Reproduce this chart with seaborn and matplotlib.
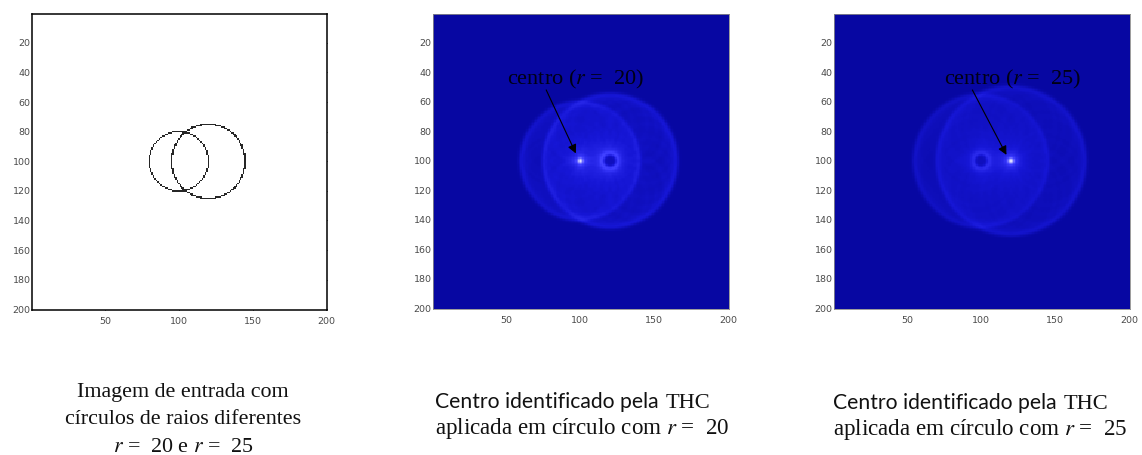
import numpy as np
import matplotlib.pyplot as plt
import seaborn as sns
from matplotlib.colors import LinearSegmentedColormap, PowerNorm

# input image: 200x200 with two circles
img_size = 200
circle_x = [100, 120]
circle_y = [100, 100]
circle_r = [20, 25]

# radius searched by the circular Hough transform (THC) in panels 2 and 3
search_r = [20, 25]
peak_labels = ['centro ($r$ =  20)', 'centro ($r$ =  25)']

x_ticks = [50, 100, 150, 200]
y_ticks = [20, 40, 60, 80, 100, 120, 140, 160, 180, 200]

caption_1 = ['Imagem de entrada com', 'círculos de raios diferentes', '$r$ =  20 e $r$ =  25']
caption_sans = 'Centro identificado pela'
caption_serif = 'THC'
caption_2 = ['aplicada em círculo com $r$ =  20', 'aplicada em círculo com $r$ =  25']

sns.set_theme(style='white')
plt.rcParams['font.family'] = ['Liberation Serif', 'DejaVu Serif']
plt.rcParams['mathtext.fontset'] = 'stix'

# rasterised circle edges (MATLAB style 1-based pixel coords)
cols, rows = np.meshgrid(np.arange(1, img_size + 1), np.arange(1, img_size + 1))
edges = np.zeros((img_size, img_size))
for cx, cy, r in zip(circle_x, circle_y, circle_r):
    d = np.hypot(cols - cx, rows - cy)
    edges[np.abs(d - r) < 0.5] = 1


# Hough accumulator for a fixed radius
def hough(edge_img, radius):
    ey, ex = np.nonzero(edge_img)
    theta = np.linspace(0, 2 * np.pi, 360, endpoint=False)
    a = np.rint(ex[:, None] - radius * np.cos(theta)[None, :]).astype(int).ravel()
    b = np.rint(ey[:, None] - radius * np.sin(theta)[None, :]).astype(int).ravel()
    ok = (a >= 0) & (a < img_size) & (b >= 0) & (b < img_size)
    acc = np.zeros((img_size, img_size))
    np.add.at(acc, (b[ok], a[ok]), 1)
    # slight softening, the original figure is a blurry screenshot
    k = np.exp(-0.5 * (np.arange(-4, 5) / 1.0) ** 2)
    k /= k.sum()
    acc = np.apply_along_axis(lambda v: np.convolve(v, k, mode='same'), 0, acc)
    acc = np.apply_along_axis(lambda v: np.convolve(v, k, mode='same'), 1, acc)
    return acc


blue_map = LinearSegmentedColormap.from_list(
    'thc', [(0.0, '#0707a2'), (0.25, '#1616d6'), (0.5, '#3c3cff'),
            (0.8, '#9494ff'), (1.0, '#dedeff')])

W, H = 1142, 455
fig = plt.figure(figsize=(W / 100, H / 100), dpi=100)
fig.patch.set_facecolor('white')

boxes = [(32, 14, 295, 296), (433, 14, 296, 295), (834, 14, 296, 295)]
axes = []
for (x0, y0, w, h) in boxes:
    axes.append(fig.add_axes([x0 / W, 1 - (y0 + h) / H, w / W, h / H]))

# panel 1: input image
sns.heatmap(edges, ax=axes[0], cmap=['white', '#262626'], cbar=False,
            xticklabels=False, yticklabels=False, rasterized=True)

# panels 2-3: accumulators
for ax, r in zip(axes[1:], search_r):
    acc = hough(edges, r)
    sns.heatmap(acc, ax=ax, cmap=blue_map, cbar=False,
                norm=PowerNorm(gamma=0.65, vmin=0, vmax=acc.max()),
                xticklabels=False, yticklabels=False, rasterized=True)

for i, ax in enumerate(axes):
    ax.set_aspect('auto')
    ax.set_xlim(0, img_size)
    ax.set_ylim(img_size, 0)
    ax.set_xticks([v - 0.5 for v in x_ticks])
    ax.set_xticklabels([str(v) for v in x_ticks])
    ax.set_yticks([v - 0.5 for v in y_ticks])
    ax.set_yticklabels([str(v) for v in y_ticks])
    for lab in ax.get_xticklabels() + ax.get_yticklabels():
        lab.set_family('DejaVu Sans')
        lab.set_fontsize(6.8)
        lab.set_color('#4a4a4a')
    for s in ax.spines.values():
        s.set_visible(True)
        s.set_color('black' if i == 0 else '#8a8a8a')
        s.set_linewidth(1.1 if i == 0 else 0.6)
    if i == 0:
        ax.tick_params(direction='in', length=3, width=0.7, color='black',
                       top=True, right=True, bottom=True, left=True)
    else:
        ax.tick_params(length=0)
    ax.tick_params(axis='x', pad=5)
    ax.tick_params(axis='y', pad=1)

# peak annotations
text_xy = [(97, 45), (121, 45)]
tails = [(77, 52), (94, 52)]
heads = [(97, 95), (117, 96)]
for ax, lab, txy, tl, hd in zip(axes[1:], peak_labels, text_xy, tails, heads):
    ax.text(txy[0] - 0.5, txy[1] - 0.5, lab, ha='center', va='center',
            fontsize=16, color='#000014')
    ax.annotate('', xy=(hd[0] - 0.5, hd[1] - 0.5), xytext=(tl[0] - 0.5, tl[1] - 0.5),
                arrowprops=dict(arrowstyle='-|>', color='black', lw=0.8,
                                mutation_scale=13, shrinkA=0, shrinkB=0))


# captions under the panels (pixel positions, baseline aligned)
def px(x, y):
    return x / W, 1 - y / H


for line, yb in zip(caption_1, [397, 424, 452]):
    fig.text(*px(183, yb), line, ha='center', va='baseline', fontsize=15.8, color='#111111')

fig.canvas.draw()
rend = fig.canvas.get_renderer()
for x_left, yb1, yb2, line2 in zip([435, 833], [408, 409], [434, 435], caption_2):
    t = fig.text(*px(x_left, yb1), caption_sans, ha='left', va='baseline',
                 fontsize=15.2, color='#111111', family=['Lato', 'DejaVu Sans'])
    bb = t.get_window_extent(renderer=rend)
    fig.text(bb.x1 / W + 7 / W, 1 - yb1 / H, caption_serif, ha='left', va='baseline',
             fontsize=16.2, color='#111111')
    fig.text(*px(x_left, yb2), line2, ha='left', va='baseline', fontsize=16.6, color='#111111')

fig.savefig('out.png', dpi=100)
